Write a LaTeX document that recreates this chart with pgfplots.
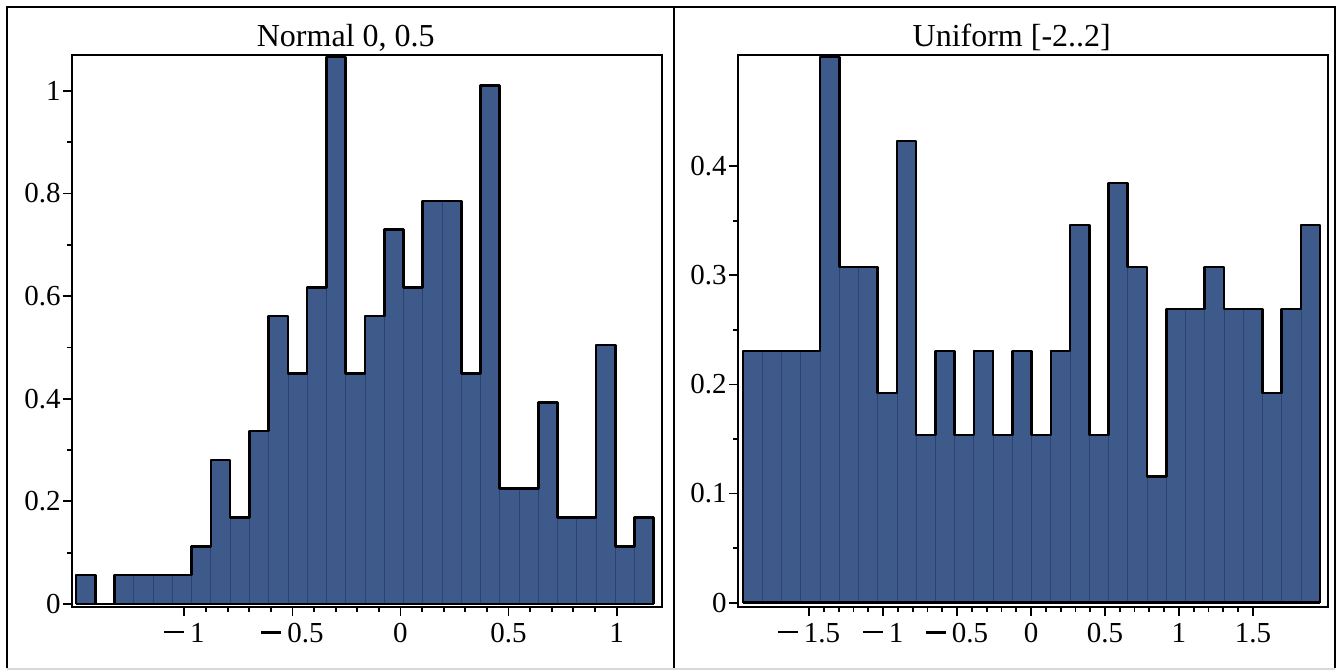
\documentclass[border=0pt]{standalone}
\usepackage{fontspec}
\setmainfont{Liberation Serif}
\usepackage{pgfplots}
\pgfplotsset{compat=1.18}
\definecolor{barfill}{HTML}{3D5A8A}
\definecolor{barsep}{HTML}{2C4270}
\newcommand\mminus{\rule[4.4pt]{10pt}{1.3pt}\hspace{3pt}}
\pgfplotsset{hist/.style={
  scale only axis, width=295pt, height=276pt, anchor=south west,
  axis on top,
  axis line style={line width=0.9pt},
  major tick style={black, line width=0.9pt},
  minor tick style={black, line width=0.9pt},
  tick align=outside, xtick pos=left, ytick pos=left,
  major tick length=4.5pt, minor tick length=2.5pt,
  minor x tick num=4, minor y tick num=1,
  tick label style={font=\fontsize{14.5}{16}\selectfont},
  yticklabel style={inner xsep=1pt},
  /pgf/number format/assume math mode=true,
  title style={at={(0.464,1)}, anchor=base, yshift=-2pt, font=\fontsize{16}{18}\selectfont},
}}
\begin{document}
\begin{tikzpicture}
\path[use as bounding box] (0,0) rectangle (670pt,335pt);
% Left panel
\begin{axis}[hist, at={(36pt,31.5pt)},
  title={Normal 0, 0.5},
  xmin=-1.52, xmax=1.21, ymin=-0.006, ymax=1.07,
  xtick={-1,-0.5,0,0.5,1},
  xticklabels={\mminus1,\mminus0.5,0,0.5,1},
  ytick={0,0.2,0.4,0.6,0.8,1},
  yticklabels={0,0.2,0.4,0.6,0.8,1},
]
\addplot[ybar interval, fill=barfill, draw=barsep, line width=0.4pt] coordinates {
(-1.5010,0.0561) (-1.4119,0) (-1.3228,0.0561) (-1.2337,0.0561) (-1.1446,0.0561)
(-1.0555,0.0561) (-0.9664,0.1122) (-0.8773,0.2806) (-0.7882,0.1684) (-0.6991,0.3367)
(-0.6100,0.5612) (-0.5209,0.4489) (-0.4318,0.6173) (-0.3427,1.0662) (-0.2536,0.4489)
(-0.1645,0.5612) (-0.0754,0.7295) (0.0137,0.6173) (0.1028,0.7856) (0.1919,0.7856)
(0.2810,0.4489) (0.3701,1.0101) (0.4592,0.2245) (0.5483,0.2245) (0.6374,0.3928)
(0.7265,0.1684) (0.8156,0.1684) (0.9047,0.5050) (0.9938,0.1122) (1.0829,0.1684)
(1.1720,0.1684)};
\addplot[const plot, black, line width=1.3pt, line join=round] coordinates {
(-1.5010,0) (-1.5010,0.0561) (-1.4119,0) (-1.3228,0.0561) (-1.2337,0.0561) (-1.1446,0.0561)
(-1.0555,0.0561) (-0.9664,0.1122) (-0.8773,0.2806) (-0.7882,0.1684) (-0.6991,0.3367)
(-0.6100,0.5612) (-0.5209,0.4489) (-0.4318,0.6173) (-0.3427,1.0662) (-0.2536,0.4489)
(-0.1645,0.5612) (-0.0754,0.7295) (0.0137,0.6173) (0.1028,0.7856) (0.1919,0.7856)
(0.2810,0.4489) (0.3701,1.0101) (0.4592,0.2245) (0.5483,0.2245) (0.6374,0.3928)
(0.7265,0.1684) (0.8156,0.1684) (0.9047,0.5050) (0.9938,0.1122) (1.0829,0.1684)
(1.1720,0.1684) (1.1720,0)};
\addplot[black, line width=1.3pt] coordinates {(-1.5010,0) (1.1720,0)};
\end{axis}
% Right panel
\begin{axis}[hist, at={(369pt,31.5pt)},
  title={Uniform [-2..2]},
  xmin=-1.98, xmax=2.007, ymin=-0.004, ymax=0.502,
  xtick={-1.5,-1,-0.5,0,0.5,1,1.5},
  xticklabels={\mminus1.5,\mminus1,\mminus0.5,0,0.5,1,1.5},
  ytick={0,0.1,0.2,0.3,0.4},
  yticklabels={0,0.1,0.2,0.3,0.4},
]
\addplot[ybar interval, fill=barfill, draw=barsep, line width=0.4pt] coordinates {
(-1.946,0.2308) (-1.816,0.2308) (-1.686,0.2308) (-1.556,0.2308) (-1.426,0.5000)
(-1.296,0.3077) (-1.166,0.3077) (-1.036,0.1923) (-0.906,0.4231) (-0.776,0.1538)
(-0.646,0.2308) (-0.516,0.1538) (-0.386,0.2308) (-0.256,0.1538) (-0.126,0.2308)
(0.004,0.1538) (0.134,0.2308) (0.264,0.3462) (0.394,0.1538) (0.524,0.3846)
(0.654,0.3077) (0.784,0.1154) (0.914,0.2692) (1.044,0.2692) (1.174,0.3077)
(1.304,0.2692) (1.434,0.2692) (1.564,0.1923) (1.694,0.2692) (1.824,0.3462)
(1.954,0.3462)};
\addplot[const plot, black, line width=1.3pt, line join=round] coordinates {
(-1.946,0) (-1.946,0.2308) (-1.816,0.2308) (-1.686,0.2308) (-1.556,0.2308) (-1.426,0.5000)
(-1.296,0.3077) (-1.166,0.3077) (-1.036,0.1923) (-0.906,0.4231) (-0.776,0.1538)
(-0.646,0.2308) (-0.516,0.1538) (-0.386,0.2308) (-0.256,0.1538) (-0.126,0.2308)
(0.004,0.1538) (0.134,0.2308) (0.264,0.3462) (0.394,0.1538) (0.524,0.3846)
(0.654,0.3077) (0.784,0.1154) (0.914,0.2692) (1.044,0.2692) (1.174,0.3077)
(1.304,0.2692) (1.434,0.2692) (1.564,0.1923) (1.694,0.2692) (1.824,0.3462)
(1.954,0.3462) (1.954,0)};
\addplot[black, line width=1.3pt] coordinates {(-1.946,0) (1.954,0)};
\end{axis}
% panel frames
\draw[black, line width=1.2pt] (3.5pt,1pt) -- (3.5pt,331.5pt) -- (667.5pt,331.5pt) -- (667.5pt,1pt);
\draw[black, line width=1.2pt] (337pt,1pt) -- (337pt,331.5pt);
\draw[black!15, line width=0.8pt] (3.5pt,0.6pt) -- (667.5pt,0.6pt);
\end{tikzpicture}
\end{document}
